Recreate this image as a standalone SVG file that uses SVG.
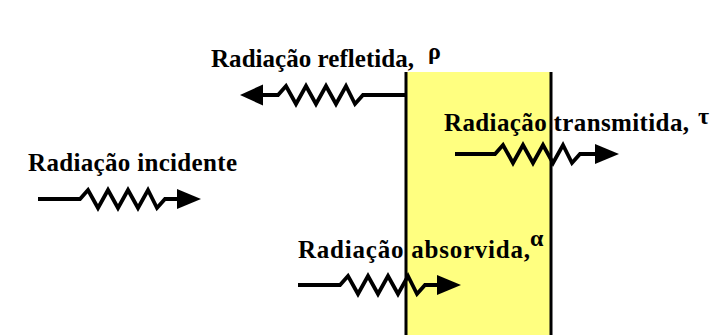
<svg xmlns="http://www.w3.org/2000/svg" width="718" height="335" viewBox="0 0 718 335">
<style>
.lbl{font-family:"Liberation Serif","Times New Roman",serif;font-weight:bold;font-size:25px;fill:#000}
.grk{font-family:"Liberation Serif","DejaVu Serif",serif;font-weight:bold;font-size:24px;fill:#000}
.wire{fill:none;stroke:#000;stroke-width:3.8;stroke-linejoin:miter;stroke-miterlimit:4;stroke-linecap:butt}
.head{fill:#000;stroke:none}
.edge{stroke:#000;stroke-width:3}
</style>
<rect width="718" height="335" fill="#fff"/>
<g id="slab">
<rect x="406" y="72" width="145" height="263" fill="#FFFF80"/>
<line class="edge" x1="406" y1="72" x2="406" y2="335"/>
<line class="edge" x1="551" y1="72" x2="551" y2="335"/>
</g>
<g id="connectors">
<path class="wire" d="M405,95 H363 l-8,9 l-9,-18 l-10,18 l-10,-18 l-10,18 l-10,-18 l-10,18 l-10,-18 l-8,9 H260"/>
<polygon class="head" points="240,95 263,84.5 263,105.5"/>
<path class="wire" d="M38,199 H80 l8,-9 l10,18 l10,-18 l10,18 l10,-18 l10,18 l10,-18 l9,18 l8,-9 H178"/>
<polygon class="head" points="201,199 177,189 177,209"/>
<path class="wire" d="M455,154 H495 l8,-9 l10,18 l10,-18 l10,18 l10,-18 l10,18 l10,-18 l9,18 l8,-9 H596"/>
<polygon class="head" points="619,154 595,144 595,164"/>
<path class="wire" d="M298,285 H340 l8,-9 l10,18 l10,-18 l10,18 l10,-18 l10,18 l10,-18 l9,18 l8,-9 H438"/>
<polygon class="head" points="461,285 437,275 437,295"/>
</g>
<g id="reflected">
<text class="lbl" x="211" y="67" textLength="203" lengthAdjust="spacing">Radiação refletida,</text>
<text class="grk" x="428" y="59">ρ</text>
</g>
<g id="incident">
<text class="lbl" x="28" y="171" textLength="209" lengthAdjust="spacing">Radiação incidente</text>
</g>
<g id="transmitted">
<text class="lbl" x="444" y="131" textLength="245" lengthAdjust="spacing">Radiação transmitida,</text>
<text class="grk" x="698" y="124">τ</text>
</g>
<g id="absorbed">
<text class="lbl" x="298" y="258" textLength="232" lengthAdjust="spacing">Radiação absorvida,</text>
<text class="grk" x="530" y="246">α</text>
</g>
</svg>
